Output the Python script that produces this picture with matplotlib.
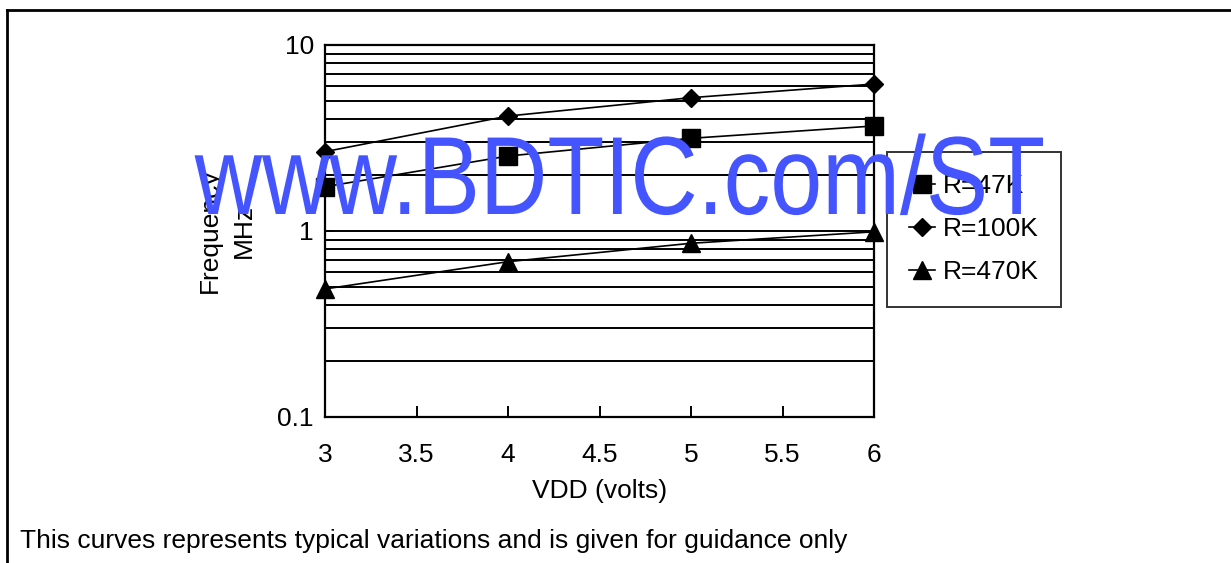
import matplotlib
matplotlib.use("Agg")
import matplotlib.pyplot as plt
import matplotlib.patheffects as pe
from matplotlib.lines import Line2D
from matplotlib.transforms import Affine2D

plt.rcParams['font.family'] = ['Liberation Sans', 'DejaVu Sans']

vdd = [3, 4, 5, 6]
f_47k = [1.73, 2.53, 3.15, 3.67]
f_100k = [2.67, 4.15, 5.21, 6.17]
f_470k = [0.488, 0.684, 0.859, 0.99]
series_labels = ["R=47K", "R=100K", "R=470K"]
x_ticks = [3, 3.5, 4, 4.5, 5, 5.5, 6]
x_tick_labels = ["3", "3.5", "4", "4.5", "5", "5.5", "6"]
y_ticks = [0.1, 1, 10]
y_tick_labels = ["0.1", "1", "10"]

W, H = 1231, 563
FS = 19
fig = plt.figure(figsize=(W / 100, H / 100), dpi=100)

# outer frame (left and top only)
fig.add_artist(Line2D([7 / W, 7 / W], [0, 1 - 10 / H], transform=fig.transFigure, color='black', lw=2))
fig.add_artist(Line2D([7 / W, 1], [1 - 10 / H, 1 - 10 / H], transform=fig.transFigure, color='black', lw=2))

ax = fig.add_axes([325 / W, 1 - 417 / H, (874 - 325) / W, (417 - 45) / H])
ax.set_yscale('log')
ax.set_xlim(3, 6)
ax.set_ylim(0.1, 10)

grid_vals = [m * d for d in (0.1, 1) for m in range(2, 10)] + [1]
for g in grid_vals:
    ax.axhline(g, color='black', lw=1.4, zorder=1)

ax.plot(vdd, f_47k, color='black', lw=1.2, marker='s', ms=13, label=series_labels[0], zorder=3, clip_on=False)
ax.plot(vdd, f_100k, color='black', lw=1.2, marker='D', ms=9, label=series_labels[1], zorder=3, clip_on=False)
ax.plot(vdd, f_470k, color='black', lw=1.2, marker='^', ms=13, label=series_labels[2], zorder=3, clip_on=False)

for s in ax.spines.values():
    s.set_linewidth(1.6)

ax.set_xticks(x_ticks)
ax.set_xticklabels(x_tick_labels, fontsize=FS)
ax.set_yticks(y_ticks)
ax.set_yticklabels(y_tick_labels, fontsize=FS)
ax.yaxis.set_minor_locator(matplotlib.ticker.NullLocator())
ax.tick_params(axis='x', direction='in', length=8, width=1.4, pad=19, top=False)
ax.tick_params(axis='y', direction='in', length=7, width=1.4, pad=8, right=False)

ax.set_xlabel("VDD (volts)", fontsize=FS, labelpad=8.5)
ax.set_ylabel("Frequency\nMHz", fontsize=FS, linespacing=1.5, rotation=90,
              ha='center', va='center', rotation_mode='default')
ax.yaxis.set_label_coords((227 - 325) / 549, 0.5)

leg = ax.legend(loc='upper left', bbox_to_anchor=(887 / W, 1 - 152 / H), bbox_transform=fig.transFigure,
                fontsize=FS, frameon=True, fancybox=False, edgecolor='black', handlelength=0.95,
                handletextpad=0.3, labelspacing=0.72, borderpad=0.85, borderaxespad=0)
leg.get_frame().set_linewidth(1.4)

fig.text(20 / W, 1 - 541 / H, "This curves represents typical variations and is given for guidance only",
         fontsize=FS, va='center', ha='left')


class Condense(pe.AbstractPathEffect):
    """Squeeze glyphs horizontally about a fixed pixel x position."""
    def __init__(self, sx, cx):
        super().__init__()
        self.sx = sx
        self.cx = cx

    def draw_path(self, renderer, gc, tpath, affine, rgbFace=None):
        t = affine + Affine2D().translate(-self.cx, 0).scale(self.sx, 1).translate(self.cx, 0)
        renderer.draw_path(gc, tpath, t, rgbFace)


cx = 620
fig.text(cx / W, 1 - 214 / H, "www.BDTIC.com/ST", fontsize=80, color='#4455ff',
         ha='center', va='baseline', zorder=10,
         path_effects=[Condense(0.84, cx)])

fig.savefig("out.png", dpi=100)
